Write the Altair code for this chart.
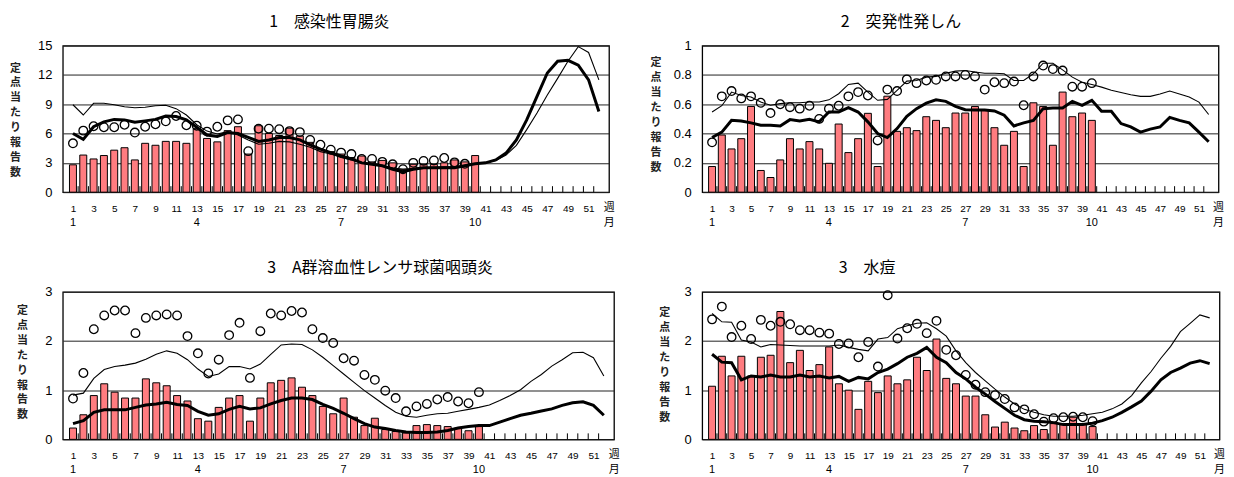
import altair as alt
import pandas as pd

FONT_JP = "Noto Sans CJK JP"
FONT_NUM = "Liberation Sans Narrow, Liberation Sans, Arial"

WEEKS = list(range(1, 53))
ODD_WEEKS = list(range(1, 52, 2))
BOUNDARIES = [i + 0.5 for i in range(1, 52)]
MONTH_WEEKS = [1, 13, 27, 40]
MONTH_LABELS = ["1", "4", "7", "10"]
Y_TITLE = list("定点当たり報告数")

# ---- 1 感染性胃腸炎 ----
p1_title = "1　感染性胃腸炎"
p1_yticks = [0, 3, 6, 9, 12, 15]
p1_bars = [2.8, 3.8, 3.4, 3.75, 4.3, 4.55, 3.3, 5.0, 4.8, 5.2, 5.2, 5.0, 6.5, 5.5, 5.15, 6.3, 6.7, 3.9, 6.8, 6.0,
           5.8, 6.55, 5.75, 5.1, 4.4, 4.15, 3.9, 3.55, 3.7, 3.1, 3.25, 3.0, 2.35, 2.85, 2.85, 2.85, 3.0, 3.3, 3.1, 3.75]
p1_circles = [5.0, 6.3, 6.75, 6.65, 6.65, 6.9, 6.1, 6.7, 6.95, 7.25, 7.8, 6.85, 6.8, 6.2, 6.7, 7.35, 7.45, 4.2, 6.5, 6.5,
              6.45, 6.25, 6.15, 5.35, 4.85, 4.35, 4.05, 3.9, 3.4, 3.4, 3.1, 2.85, 2.35, 3.0, 3.2, 3.25, 3.5, 3.05, 2.9]
p1_thick = [6.0, 5.4, 6.7, 7.2, 7.45, 7.4, 7.15, 7.3, 7.45, 7.8, 7.75, 7.4, 6.65, 5.85, 5.7, 6.1, 6.0, 5.6, 5.2, 5.35,
            5.6, 5.6, 5.35, 4.85, 4.4, 4.05, 3.7, 3.4, 3.0, 2.85, 2.7, 2.35, 2.1, 2.35, 2.5, 2.5, 2.5, 2.5, 2.7, 2.9,
            3.0, 3.3, 4.0, 5.35, 7.4, 9.8, 12.2, 13.4, 13.5, 13.0, 11.5, 8.25]
p1_thin = [8.95, 7.9, 9.1, 9.1, 8.95, 8.75, 8.65, 8.7, 8.85, 8.9, 8.55, 7.9, 6.9, 6.25, 5.95, 6.2, 5.85, 5.35, 4.9, 5.0,
           5.2, 5.15, 4.9, 4.6, 4.15, 3.9, 3.55, 3.3, 3.05, 2.9, 2.7, 2.5, 2.35, 2.45, 2.5, 2.55, 2.6, 2.6, 2.75, 2.9,
           3.0, 3.25, 3.8, 4.8, 6.4, 8.1, 9.95, 11.65, 13.4, 14.9, 14.3, 11.5]

# ---- 2 突発性発しん ----
p2_title = "2　突発性発しん"
p2_yticks = [0, 0.2, 0.4, 0.6, 0.8, 1.0]
p2_bars = [0.175, 0.39, 0.295, 0.365, 0.585, 0.148, 0.10, 0.22, 0.365, 0.295, 0.345, 0.295, 0.197, 0.465, 0.27,
           0.365, 0.538, 0.175, 0.655, 0.415, 0.44, 0.42, 0.515, 0.49, 0.44, 0.54, 0.54, 0.585, 0.56, 0.44, 0.32,
           0.415, 0.175, 0.61, 0.585, 0.32, 0.683, 0.515, 0.54, 0.49]
p2_circles = [0.34, 0.654, 0.69, 0.64, 0.654, 0.61, 0.54, 0.60, 0.58, 0.57, 0.59, 0.50, 0.57, 0.59, 0.654, 0.683,
              0.66, 0.353, 0.70, 0.69, 0.77, 0.744, 0.762, 0.767, 0.79, 0.79, 0.80, 0.79, 0.70, 0.75, 0.744, 0.755,
              0.593, 0.79, 0.864, 0.84, 0.83, 0.72, 0.72, 0.744]
p2_thick = [0.373, 0.41, 0.49, 0.486, 0.473, 0.457, 0.457, 0.452, 0.495, 0.486, 0.497, 0.48, 0.547, 0.547, 0.577,
            0.547, 0.48, 0.40, 0.373, 0.434, 0.518, 0.57, 0.608, 0.63, 0.62, 0.586, 0.563, 0.56, 0.56, 0.554, 0.525,
            0.452, 0.473, 0.49, 0.57, 0.575, 0.575, 0.62, 0.593, 0.627, 0.552, 0.552, 0.468, 0.446, 0.41, 0.43,
            0.445, 0.51, 0.49, 0.473, 0.41, 0.344]
p2_thin = [0.547, 0.59, 0.683, 0.66, 0.65, 0.615, 0.593, 0.604, 0.61, 0.61, 0.615, 0.615, 0.63, 0.672, 0.735, 0.744,
           0.683, 0.627, 0.633, 0.695, 0.758, 0.762, 0.785, 0.79, 0.812, 0.826, 0.83, 0.82, 0.812, 0.812, 0.808,
           0.762, 0.762, 0.808, 0.88, 0.88, 0.835, 0.785, 0.75, 0.735, 0.717, 0.695, 0.68, 0.665, 0.654, 0.654,
           0.67, 0.69, 0.67, 0.65, 0.615, 0.53]

# ---- 3 A群溶血性レンサ球菌咽頭炎 ----
p3_title = "3　A群溶血性レンサ球菌咽頭炎"
p3_yticks = [0, 1, 2, 3]
p3_bars = [0.23, 0.50, 0.89, 1.13, 0.96, 0.84, 0.84, 1.23, 1.15, 1.09, 0.89, 0.78, 0.42, 0.37, 0.65, 0.84, 0.89,
           0.37, 0.84, 1.15, 1.20, 1.25, 1.06, 0.89, 0.67, 0.52, 0.84, 0.45, 0.28, 0.43, 0.20, 0.16, 0.13, 0.28,
           0.30, 0.28, 0.26, 0.23, 0.175, 0.26]
p3_circles = [0.83, 1.35, 2.24, 2.52, 2.62, 2.62, 2.16, 2.47, 2.52, 2.54, 2.52, 2.10, 1.75, 1.34, 1.62, 2.12, 2.37,
              1.25, 2.20, 2.56, 2.52, 2.61, 2.58, 2.24, 2.06, 1.96, 1.65, 1.60, 1.31, 1.21, 0.99, 0.84, 0.57, 0.67,
              0.72, 0.81, 0.86, 0.77, 0.735, 0.96]
p3_thick = [0.32, 0.38, 0.55, 0.60, 0.60, 0.60, 0.65, 0.70, 0.72, 0.755, 0.71, 0.69, 0.57, 0.49, 0.52, 0.61, 0.67,
            0.62, 0.64, 0.72, 0.79, 0.84, 0.84, 0.81, 0.71, 0.63, 0.53, 0.42, 0.32, 0.25, 0.22, 0.18, 0.15, 0.14,
            0.14, 0.15, 0.18, 0.23, 0.26, 0.28, 0.28, 0.35, 0.42, 0.49, 0.53, 0.575, 0.62, 0.69, 0.745, 0.765,
            0.69, 0.49]
p3_thin = [0.90, 0.94, 1.24, 1.42, 1.48, 1.51, 1.55, 1.63, 1.73, 1.80, 1.75, 1.62, 1.43, 1.28, 1.33, 1.48, 1.48,
           1.43, 1.53, 1.73, 1.92, 1.94, 1.93, 1.82, 1.67, 1.50, 1.33, 1.16, 0.99, 0.84, 0.69, 0.55, 0.47, 0.45,
           0.49, 0.52, 0.53, 0.57, 0.61, 0.65, 0.70, 0.79, 0.89, 1.01, 1.18, 1.32, 1.49, 1.62, 1.76, 1.77, 1.66, 1.29]

# ---- 3 水痘 ----
p4_title = "3　水痘"
p4_yticks = [0, 1, 2, 3]
p4_bars = [1.08, 1.69, 1.29, 1.69, 1.29, 1.67, 1.71, 2.60, 1.56, 1.81, 1.40, 1.52, 1.88, 1.13, 1.00, 0.61, 1.18,
           0.95, 1.29, 1.13, 1.21, 1.67, 1.40, 2.04, 1.24, 1.13, 0.88, 0.88, 0.50, 0.25, 0.35, 0.23, 0.175, 0.28,
           0.20, 0.32, 0.30, 0.45, 0.32, 0.26]
p4_circles = [2.44, 2.70, 2.08, 2.31, 2.04, 2.43, 2.31, 2.39, 2.34, 2.22, 2.22, 2.17, 2.15, 1.94, 1.95, 1.67, 1.98,
              1.48, 2.93, 2.05, 2.26, 2.35, 2.16, 2.41, 1.82, 1.71, 1.31, 1.11, 0.96, 0.90, 0.82, 0.65, 0.61, 0.51,
              0.36, 0.43, 0.45, 0.46, 0.45, 0.37]
p4_thick = [1.73, 1.57, 1.56, 1.21, 1.29, 1.27, 1.31, 1.27, 1.27, 1.31, 1.27, 1.29, 1.25, 1.28, 1.18, 1.26, 1.23,
            1.36, 1.43, 1.54, 1.67, 1.75, 1.87, 1.67, 1.56, 1.36, 1.23, 1.06, 0.92, 0.77, 0.63, 0.49, 0.40, 0.37,
            0.36, 0.34, 0.30, 0.30, 0.30, 0.33, 0.38, 0.45, 0.55, 0.66, 0.78, 0.98, 1.21, 1.36, 1.45, 1.55, 1.60, 1.54]
p4_thin = [2.56, 2.39, 2.38, 2.02, 1.98, 1.88, 1.93, 1.92, 1.91, 1.90, 1.90, 1.90, 1.90, 1.92, 1.87, 1.83, 1.80,
           2.04, 2.07, 2.25, 2.31, 2.36, 2.37, 2.25, 2.10, 1.80, 1.56, 1.36, 1.19, 1.02, 0.86, 0.72, 0.61, 0.55,
           0.50, 0.47, 0.47, 0.47, 0.49, 0.52, 0.55, 0.62, 0.72, 0.89, 1.15, 1.38, 1.65, 1.89, 2.19, 2.36, 2.53, 2.47]

BAR_FILL = "#FF7C80"


def panel(title, bars, circles, thick, thin, yticks, w, h, title_dx, ytitle_x, ytitle_y):
    ymax = yticks[-1]
    xs = alt.Scale(domain=[0.5, 52.5], nice=False, zero=False)
    ys = alt.Scale(domain=[0, ymax], nice=False)

    X = alt.X("week:Q", scale=xs, axis=alt.Axis(
        values=ODD_WEEKS, ticks=False, domain=False, grid=False, title=None,
        labelFontSize=10, labelFont=FONT_NUM, labelPadding=11, labelColor="black",
        labelFlush=False, labelOverlap=False, labelBound=False))
    Y = alt.Y("v:Q", scale=ys, axis=alt.Axis(
        values=yticks, grid=True, gridColor="#222", gridWidth=1, ticks=False, domain=False,
        labelFontSize=13, labelFont=FONT_NUM, labelPadding=11, labelColor="black", format="~g",
        title=Y_TITLE, titleAngle=0, titleX=ytitle_x, titleY=ytitle_y, titleAlign="center",
        titleBaseline="middle", titleLineHeight=15, titleFontSize=11, titleFont=FONT_JP,
        titleFontWeight="bold", titleColor="#222"))

    bar_df = pd.DataFrame({"week": WEEKS[:len(bars)], "v": bars})
    circ_df = pd.DataFrame({"week": WEEKS[:len(circles)], "v": circles})
    thick_df = pd.DataFrame({"week": WEEKS, "v": thick})
    thin_df = pd.DataFrame({"week": WEEKS, "v": thin})
    bnd_df = pd.DataFrame({"week": BOUNDARIES})
    month_df = pd.DataFrame({"week": MONTH_WEEKS, "t": MONTH_LABELS})
    unit_df = pd.DataFrame({"week": [53], "a": ["週"], "b": ["月"]})

    bar_layer = alt.Chart(bar_df).mark_bar(
        size=7, fill=BAR_FILL, stroke="black", strokeWidth=1
    ).encode(x=X, y=Y)
    tick_layer = alt.Chart(bnd_df).mark_rule(color="black", strokeWidth=1).encode(
        x=X, y=alt.value(h - 6), y2=alt.value(h)
    )
    thin_layer = alt.Chart(thin_df).mark_line(color="black", strokeWidth=1.1).encode(x=X, y=Y)
    thick_layer = alt.Chart(thick_df).mark_line(color="black", strokeWidth=3).encode(x=X, y=Y)
    circ_layer = alt.Chart(circ_df).mark_point(
        shape="circle", filled=False, size=75, color="black", strokeWidth=1.3, opacity=1
    ).encode(x=X, y=Y)
    month_layer = alt.Chart(month_df).mark_text(
        fontSize=11, font=FONT_NUM, color="black", baseline="middle"
    ).encode(x=X, y=alt.value(h + 31), text="t:N")
    wk_layer = alt.Chart(unit_df).mark_text(
        fontSize=11, font=FONT_JP, color="black", baseline="middle"
    ).encode(x=X, y=alt.value(h + 16), text="a:N")
    mo_layer = alt.Chart(unit_df).mark_text(
        fontSize=11, font=FONT_JP, color="black", baseline="middle"
    ).encode(x=X, y=alt.value(h + 31), text="b:N")

    return alt.layer(
        bar_layer, tick_layer, thin_layer, thick_layer, circ_layer, month_layer, wk_layer, mo_layer
    ).properties(
        width=w, height=h,
        title=alt.TitleParams(text=title, anchor="start", dx=title_dx, frame="group", fontSize=16,
                              font=FONT_JP, fontWeight="normal", color="black", offset=10),
        view=alt.ViewBackground(stroke="black", strokeWidth=1.3),
    )


P1 = panel(p1_title, p1_bars, p1_circles, p1_thick, p1_thin, p1_yticks, 548, 147, 207, -48, 22.5)
P2 = panel(p2_title, p2_bars, p2_circles, p2_thick, p2_thin, p2_yticks, 518, 147, 139, -47, 17)
P3 = panel(p3_title, p3_bars, p3_circles, p3_thick, p3_thin, p3_yticks, 553, 148, 205, -41, 18.5)
P4 = panel(p4_title, p4_bars, p4_circles, p4_thick, p4_thin, p4_yticks, 519, 148, 137, -38, 21)

chart = alt.concat(P1, P2, P3, P4, columns=2).properties(
    spacing={"row": 100, "column": 88.5},
    bounds="flush",
    padding={"left": 0, "top": 4, "right": 0, "bottom": 0},
).configure_view(stroke=None)

chart.save("out.html", embed_options={"renderer": "svg", "actions": False})
